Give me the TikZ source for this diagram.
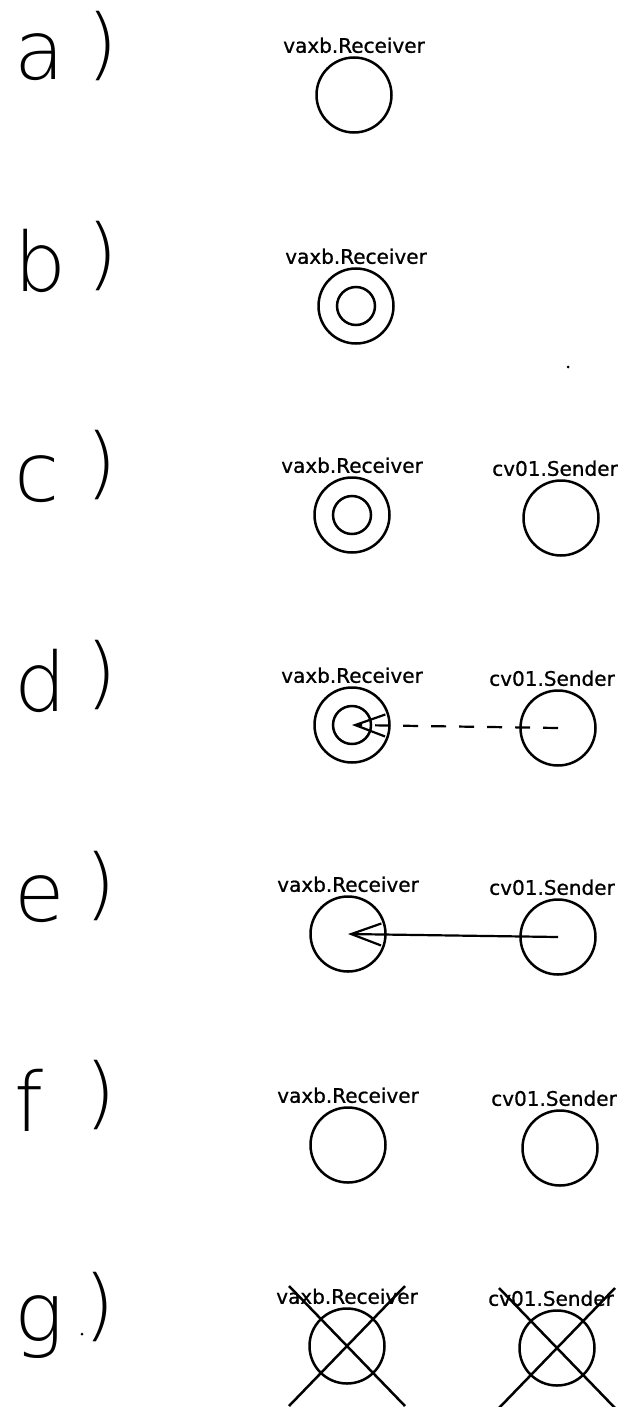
\documentclass[tikz,border=0pt]{standalone}
\usepackage{fontspec}
\setmainfont{DejaVu Sans}
\newfontfamily\lblfont{DejaVu Sans}[FakeBold=0.8]
\IfFontExistsTF{DejaVu Sans ExtraLight}
  {\newfontfamily\thinfont{DejaVu Sans ExtraLight}}
  {\IfFontExistsTF{DejaVuSans-ExtraLight.ttf}
    {\newfontfamily\thinfont{DejaVuSans-ExtraLight.ttf}}
    {\IfFontExistsTF{Lato Hairline}
      {\newfontfamily\thinfont{Lato Hairline}}
      {\newfontfamily\thinfont{Lato}}}}
\usetikzlibrary{arrows.meta,positioning}
\tikzset{
    proc/.style={circle,draw,line width=2.5pt,inner sep=0pt,minimum size=75pt},
    subproc/.style={circle,draw,line width=2.5pt,inner sep=0pt,minimum size=38pt},
    plbl/.style={inner sep=0pt,font=\lblfont\fontsize{20}{24}\selectfont},
    slbl/.style={plbl,xshift=-6pt},
    rowletter/.style={inner sep=0pt,anchor=base west,font=\thinfont\fontsize{82}{82}\selectfont},
    rowparen/.style={inner sep=0pt,font=\thinfont\fontsize{78}{78}\selectfont},
    msg/.style={line width=2.2pt,-{Straight Barb[length=30pt,width=22pt]}},
    xline/.style={line width=2.5pt},
}

\begin{document}
\begin{tikzpicture}[x=1pt,y=-1pt]
            \useasboundingbox (0,0) rectangle (620,1407);
            % a )
            \node[rowletter] (la) at (14,80) {a};
            \node[rowparen] (pa) at (103,46) {)};
            \node[proc] (ra) at (354,95) {};
            \node[plbl,above=3pt of ra] (ta) {vaxb.Receiver};
            % b )
            \node[rowletter] (lb) at (14,291) {b};
            \node[rowparen] (pb) at (103,256) {)};
            \node[proc] (rb) at (356,306) {};
            \node[subproc] (rbi) at (rb.center) {};
            \node[plbl,above=3pt of rb] (tb) {vaxb.Receiver};
            \fill (568,367) circle[radius=1.5pt];
            % c )
            \node[rowletter] (lc) at (14,501) {c};
            \node[rowparen] (pc) at (102,465) {)};
            \node[proc] (rc) at (352,515) {};
            \node[subproc] (rci) at (rc.center) {};
            \node[plbl,above=3pt of rc] (tc) {vaxb.Receiver};
            \node[proc] (sc) at (561,518) {};
            \node[slbl,above=3pt of sc] (uc) {cv01.Sender};
            % d )
            \node[rowletter] (ld) at (14,711) {d};
            \node[rowparen] (pd) at (102,675) {)};
            \node[proc] (rd) at (352,725) {};
            \node[subproc] (rdi) at (rd.center) {};
            \node[plbl,above=3pt of rd] (td) {vaxb.Receiver};
            \node[proc] (sd) at (558,728) {};
            \node[slbl,above=3pt of sd] (ud) {cv01.Sender};
            \draw[msg,dash pattern=on 15pt off 13pt] (sd.center) -- (rd.center);
            % e )
            \node[rowletter] (le) at (14,921) {e};
            \node[rowparen] (pe) at (101,886) {)};
            \node[proc] (re) at (348,934) {};
            \node[plbl,above=3pt of re] (te) {vaxb.Receiver};
            \node[proc] (se) at (558,937) {};
            \node[slbl,above=3pt of se] (ue) {cv01.Sender};
            \draw[msg] (se.center) -- (re.center);
            % f )
            \node[rowletter] (lf) at (14,1131) {f};
            \node[rowparen] (pf) at (101,1095) {)};
            \node[proc] (rf) at (348,1145) {};
            \node[plbl,above=3pt of rf] (tf) {vaxb.Receiver};
            \node[proc] (sf) at (560,1148) {};
            \node[slbl,above=3pt of sf] (uf) {cv01.Sender};
            % g )
            \node[rowletter] (lg) at (14,1341) {g};
            \node[rowparen] (pg) at (100,1307) {)};
            \fill (82,1334) circle[radius=1.5pt];
            \node[proc] (rg) at (347,1346) {};
            \node[plbl,above=3pt of rg] (tg) {vaxb.Receiver};
            \node[proc] (sg) at (557,1348) {};
            \node[slbl,above=3pt of sg] (ug) {cv01.Sender};
            \draw[xline] ([shift={(-58,-60)}]rg.center) -- ([shift={(58,60)}]rg.center);
            \draw[xline] ([shift={(-58,60)}]rg.center) -- ([shift={(58,-60)}]rg.center);
            \draw[xline] ([shift={(-58,-60)}]sg.center) -- ([shift={(58,60)}]sg.center);
            \draw[xline] ([shift={(-58,60)}]sg.center) -- ([shift={(58,-60)}]sg.center);
        \end{tikzpicture}
\end{document}
